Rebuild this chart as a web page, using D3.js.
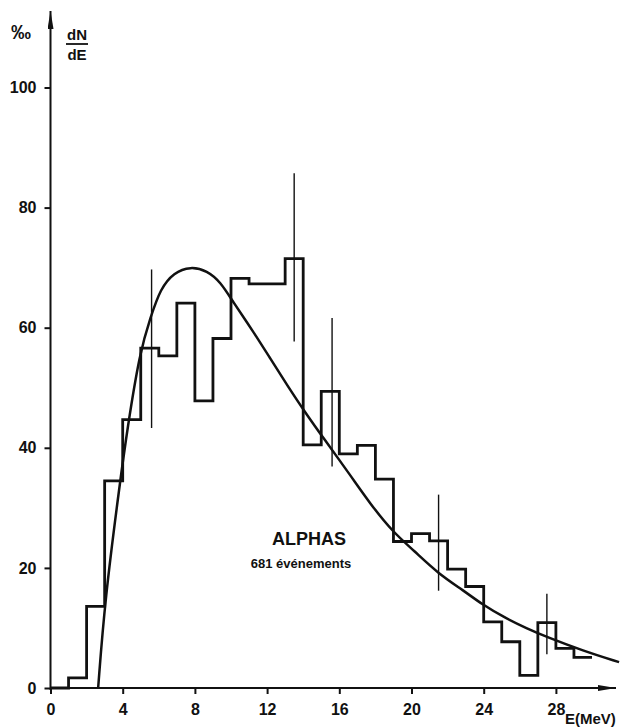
<!DOCTYPE html>
<html>
<head>
<meta charset="utf-8">
<script src="https://cdn.jsdelivr.net/npm/d3@7"></script>
<style>
  html, body { margin: 0; padding: 0; background: #fff; }
  svg { display: block; }
  text { font-family: "Liberation Sans", Arial, sans-serif; fill: #111; }
</style>
</head>
<body>
<div id="chart"></div>
<script>
// Histogram: bin left edges (MeV) and dN/dE values (per mille)
const binEdges = [0, 1, 2, 3, 4, 5, 6, 7, 8, 9, 10, 11, 12, 13, 14, 15, 16, 17, 18, 19,
  20, 21, 22, 23, 24, 25, 26, 27, 28, 29, 30];
const binValues = [0, 1.7, 13.6, 34.5, 44.7, 56.6, 55.3, 64.1, 47.8, 58.2, 68.2, 67.3, 67.3,
  71.5, 40.5, 49.4, 39.0, 40.4, 34.8, 24.4, 25.7, 24.5, 19.8, 16.9, 11.0, 7.7, 2.1, 10.9, 6.6, 5.1];

// Error bars: position and low/high ends
const errX = [5.6, 13.5, 15.6, 21.5, 27.5];
const errLow = [43.3, 57.7, 36.9, 16.2, 5.6];
const errHigh = [69.7, 85.7, 61.6, 32.2, 15.7];

// Fitted curve, points
const curveE = [2.64, 3.01, 3.86, 4.25, 4.95, 5.54, 6.09, 6.83, 7.76, 8.68, 9.42, 10.07,
  11.27, 12.19, 13.12, 14.13, 15.15, 16.62, 17.73, 18.99, 20.13, 21.46, 22.9, 23.92,
  25.11, 26.4, 27.5, 29.5, 31.5];
const curveV = [0, 14.6, 34.5, 43, 56, 61.7, 66.5, 69.2, 70.2, 69.5, 67.6, 64.5,
  59.2, 54.8, 50.4, 45.8, 41.5, 35.4, 30.6, 25.9, 22.9, 19.1, 16.2, 13.9,
  11.8, 9.9, 8.5, 6.2, 4.3];

const xTicks = [0, 4, 8, 12, 16, 20, 24, 28];
const yTicks = [0, 20, 40, 60, 80, 100];

const width = 622, height = 727;

const svg = d3.select('#chart').append('svg')
  .attr('width', width)
  .attr('height', height);

const x = d3.scaleLinear().domain([0, 30]).range([50.5, 50.5 + 30 * 18.05]);
const y = d3.scaleLinear().domain([0, 100]).range([688, 688 - 100 * 6.005]);

// Arrow heads
const defs = svg.append('defs');
defs.append('marker')
  .attr('id', 'arrow')
  .attr('viewBox', '0 -3 18 6')
  .attr('refX', 18)
  .attr('refY', 0)
  .attr('markerUnits', 'userSpaceOnUse')
  .attr('markerWidth', 18)
  .attr('markerHeight', 6)
  .attr('orient', 'auto')
  .append('path')
  .attr('d', 'M0,-3L18,0L0,3Z')
  .attr('fill', '#111');

// Axis lines
svg.append('line')
  .attr('x1', x(0)).attr('y1', y(0))
  .attr('x2', 616).attr('y2', y(0))
  .attr('stroke', '#111').attr('stroke-width', 2)
  .attr('marker-end', 'url(#arrow)');

svg.append('line')
  .attr('x1', x(0)).attr('y1', y(0) + 2)
  .attr('x2', x(0)).attr('y2', 11)
  .attr('stroke', '#111').attr('stroke-width', 2)
  .attr('marker-end', 'url(#arrow)');

// X axis ticks
const xAxis = svg.append('g')
  .attr('transform', `translate(0,${y(0)})`)
  .call(d3.axisBottom(x).tickValues(xTicks).tickSize(6).tickSizeOuter(0));
xAxis.select('.domain').remove();
xAxis.selectAll('line').attr('stroke', '#111').attr('stroke-width', 2);
xAxis.selectAll('text')
  .attr('y', 27).attr('dy', 0)
  .attr('font-size', 16).attr('font-weight', 'bold')
  .attr('font-family', null).style('fill', '#111');

// Y axis ticks
const yAxis = svg.append('g')
  .attr('transform', `translate(${x(0)},0)`)
  .call(d3.axisLeft(y).tickValues(yTicks).tickSize(6).tickSizeOuter(0).tickPadding(8));
yAxis.select('.domain').remove();
yAxis.selectAll('line').attr('stroke', '#111').attr('stroke-width', 2);
yAxis.selectAll('text')
  .attr('font-size', 16).attr('font-weight', 'bold')
  .attr('font-family', null).style('fill', '#111');

// Histogram
const histPoints = binEdges.map((e, i) => [e, i < binValues.length ? binValues[i] : binValues[binValues.length - 1]]);
svg.append('path')
  .datum(histPoints)
  .attr('fill', 'none')
  .attr('stroke', '#111')
  .attr('stroke-width', 2.8)
  .attr('stroke-linejoin', 'miter')
  .attr('d', d3.line()
    .x(d => x(d[0]))
    .y(d => y(d[1]))
    .curve(d3.curveStepAfter));

// Error bars
svg.append('g')
  .selectAll('line')
  .data(errX)
  .enter()
  .append('line')
  .attr('x1', d => x(d)).attr('x2', d => x(d))
  .attr('y1', (d, i) => y(errLow[i]))
  .attr('y2', (d, i) => y(errHigh[i]))
  .attr('stroke', '#111')
  .attr('stroke-width', 1.4);

// Fitted curve
svg.append('path')
  .datum(curveE.map((e, i) => [e, curveV[i]]))
  .attr('fill', 'none')
  .attr('stroke', '#111')
  .attr('stroke-width', 2.5)
  .attr('d', d3.line()
    .x(d => x(d[0]))
    .y(d => y(d[1]))
    .curve(d3.curveBasis));

// Labels
svg.append('text')
  .attr('x', 11).attr('y', 39)
  .attr('font-size', 20).attr('font-weight', 'bold')
  .text('‰');

const frac = svg.append('g').attr('font-weight', 'bold').attr('font-size', 15);
frac.append('text').attr('x', 77).attr('y', 40).attr('text-anchor', 'middle').text('dN');
frac.append('line')
  .attr('x1', 66).attr('x2', 88).attr('y1', 44).attr('y2', 44)
  .attr('stroke', '#111').attr('stroke-width', 1.8);
frac.append('text').attr('x', 77).attr('y', 60).attr('text-anchor', 'middle').text('dE');

svg.append('text')
  .attr('x', 565).attr('y', 724)
  .attr('font-size', 15).attr('font-weight', 'bold')
  .text('E(MeV)');

svg.append('text')
  .attr('x', 309).attr('y', 545)
  .attr('text-anchor', 'middle')
  .attr('font-size', 18).attr('font-weight', 'bold')
  .text('ALPHAS');

svg.append('text')
  .attr('x', 301).attr('y', 568)
  .attr('text-anchor', 'middle')
  .attr('font-size', 13).attr('font-weight', 'bold')
  .text('681 événements');
</script>
</body>
</html>
